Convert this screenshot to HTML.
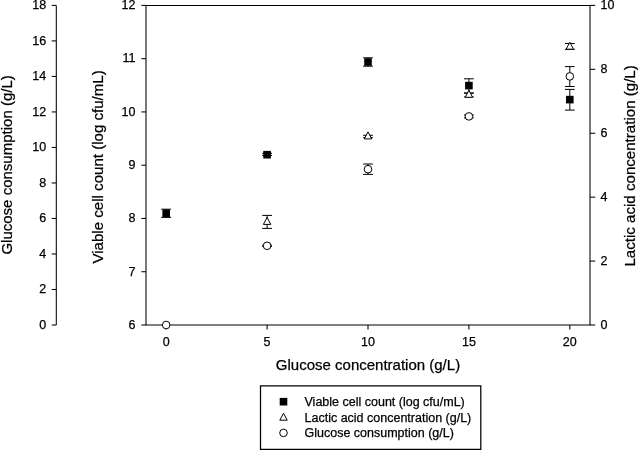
<!DOCTYPE html>
<html><head><meta charset="utf-8"><title>Chart</title><style>
html,body{margin:0;padding:0;background:#fff;}
svg{will-change:transform;display:block;position:absolute;left:0;top:0;}
text{font-family:"Liberation Sans",sans-serif;fill:#000;stroke:#000;stroke-width:0.25px;}
.t{font-size:12.5px;}
.l{font-size:15px;}
.a{stroke:#000;stroke-width:1.05;fill:none;}
.e{stroke:#000;stroke-width:1;fill:none;}
</style></head><body>
<svg width="638" height="450" viewBox="0 0 638 450">
<rect x="0" y="0" width="638" height="450" fill="#fff"/>
<path class="a" d="M146.0 5.4H590.0V325.0H146.0Z"/>
<path class="a" d="M56.3 5.4V325.0"/>
<path class="a" d="M51.699999999999996 325.00H56.3"/>
<text class="t" x="46.099999999999994" y="328.80" text-anchor="end">0</text>
<path class="a" d="M51.699999999999996 289.49H56.3"/>
<text class="t" x="46.099999999999994" y="293.29" text-anchor="end">2</text>
<path class="a" d="M51.699999999999996 253.98H56.3"/>
<text class="t" x="46.099999999999994" y="257.78" text-anchor="end">4</text>
<path class="a" d="M51.699999999999996 218.47H56.3"/>
<text class="t" x="46.099999999999994" y="222.27" text-anchor="end">6</text>
<path class="a" d="M51.699999999999996 182.96H56.3"/>
<text class="t" x="46.099999999999994" y="186.76" text-anchor="end">8</text>
<path class="a" d="M51.699999999999996 147.44H56.3"/>
<text class="t" x="46.099999999999994" y="151.24" text-anchor="end">10</text>
<path class="a" d="M51.699999999999996 111.93H56.3"/>
<text class="t" x="46.099999999999994" y="115.73" text-anchor="end">12</text>
<path class="a" d="M51.699999999999996 76.42H56.3"/>
<text class="t" x="46.099999999999994" y="80.22" text-anchor="end">14</text>
<path class="a" d="M51.699999999999996 40.91H56.3"/>
<text class="t" x="46.099999999999994" y="44.71" text-anchor="end">16</text>
<path class="a" d="M51.699999999999996 5.40H56.3"/>
<text class="t" x="46.099999999999994" y="9.20" text-anchor="end">18</text>
<path class="a" d="M141.4 325.00H146.0"/>
<text class="t" x="135.5" y="328.80" text-anchor="end">6</text>
<path class="a" d="M141.4 271.73H146.0"/>
<text class="t" x="135.5" y="275.53" text-anchor="end">7</text>
<path class="a" d="M141.4 218.47H146.0"/>
<text class="t" x="135.5" y="222.27" text-anchor="end">8</text>
<path class="a" d="M141.4 165.20H146.0"/>
<text class="t" x="135.5" y="169.00" text-anchor="end">9</text>
<path class="a" d="M141.4 111.93H146.0"/>
<text class="t" x="135.5" y="115.73" text-anchor="end">10</text>
<path class="a" d="M141.4 58.67H146.0"/>
<text class="t" x="135.5" y="62.47" text-anchor="end">11</text>
<path class="a" d="M141.4 5.40H146.0"/>
<text class="t" x="135.5" y="9.20" text-anchor="end">12</text>
<path class="a" d="M590.0 325.00H595.2"/>
<text class="t" x="600.5" y="328.80">0</text>
<path class="a" d="M590.0 261.08H595.2"/>
<text class="t" x="600.5" y="264.88">2</text>
<path class="a" d="M590.0 197.16H595.2"/>
<text class="t" x="600.5" y="200.96">4</text>
<path class="a" d="M590.0 133.24H595.2"/>
<text class="t" x="600.5" y="137.04">6</text>
<path class="a" d="M590.0 69.32H595.2"/>
<text class="t" x="600.5" y="73.12">8</text>
<path class="a" d="M590.0 5.40H595.2"/>
<text class="t" x="600.5" y="9.20">10</text>
<path class="a" d="M166.18 325.0V329.6"/>
<text class="t" x="166.18" y="346.4" text-anchor="middle">0</text>
<path class="a" d="M267.09 325.0V329.6"/>
<text class="t" x="267.09" y="346.4" text-anchor="middle">5</text>
<path class="a" d="M368.00 325.0V329.6"/>
<text class="t" x="368.00" y="346.4" text-anchor="middle">10</text>
<path class="a" d="M468.91 325.0V329.6"/>
<text class="t" x="468.91" y="346.4" text-anchor="middle">15</text>
<path class="a" d="M569.82 325.0V329.6"/>
<text class="t" x="569.82" y="346.4" text-anchor="middle">20</text>
<text class="l" x="368" y="370.2" text-anchor="middle">Glucose concentration (g/L)</text>
<text class="l" style="font-size:15.03px" transform="translate(11.6 164.9) rotate(-90)" text-anchor="middle">Glucose consumption (g/L)</text>
<text class="l" style="font-size:15.08px" transform="translate(103 166.9) rotate(-90)" text-anchor="middle">Viable cell count (log cfu/mL)</text>
<text class="l" style="font-size:15.1px" transform="translate(634.6 165.9) rotate(-90)" text-anchor="middle">Lactic acid concentration (g/L)</text>
<path class="e" d="M166.18 209.20V217.40M161.28 209.20H171.08M161.28 217.40H171.08"/>
<path class="e" d="M267.09 153.30V155.50M262.19 153.30H271.99M262.19 155.50H271.99"/>
<path class="e" d="M368.00 57.80V66.20M363.10 57.80H372.90M363.10 66.20H372.90"/>
<path class="e" d="M468.91 78.80V93.00M464.01 78.80H473.81M464.01 93.00H473.81"/>
<path class="e" d="M569.82 89.40V110.10M564.92 89.40H574.72M564.92 110.10H574.72"/>
<rect x="162.38" y="209.50" width="7.60" height="7.60" fill="#000"/>
<rect x="263.29" y="150.90" width="7.60" height="7.60" fill="#000"/>
<rect x="364.20" y="58.20" width="7.60" height="7.60" fill="#000"/>
<rect x="465.11" y="81.80" width="7.60" height="7.60" fill="#000"/>
<rect x="566.02" y="95.80" width="7.60" height="7.60" fill="#000"/>
<path class="e" d="M267.09 215.40V228.40M262.19 215.40H271.99M262.19 228.40H271.99"/>
<path class="e" d="M368.00 135.30V137.60M363.10 135.30H372.90M363.10 137.60H372.90"/>
<path class="e" d="M468.91 93.20V96.90M464.01 93.20H473.81M464.01 96.90H473.81"/>
<path class="e" d="M569.82 43.50V49.40M564.92 43.50H574.72M564.92 49.40H574.72"/>
<path d="M267.09 217.40L270.79 224.40H263.39Z" fill="#fff" stroke="#000" stroke-width="1"/>
<path d="M368.00 131.90L371.70 138.90H364.30Z" fill="#fff" stroke="#000" stroke-width="1"/>
<path d="M468.91 90.30L472.61 97.30H465.21Z" fill="#fff" stroke="#000" stroke-width="1"/>
<path d="M569.82 42.20L573.52 49.20H566.12Z" fill="#fff" stroke="#000" stroke-width="1"/>
<path class="e" d="M267.09 245.20V246.40M262.19 245.20H271.99M262.19 246.40H271.99"/>
<path class="e" d="M368.00 164.00V174.40M363.10 164.00H372.90M363.10 174.40H372.90"/>
<path class="e" d="M468.91 115.00V117.90M464.01 115.00H473.81M464.01 117.90H473.81"/>
<path class="e" d="M569.82 66.60V86.50M564.92 66.60H574.72M564.92 86.50H574.72"/>
<circle cx="166.18" cy="325.00" r="3.8" fill="#fff" stroke="#000" stroke-width="1"/>
<circle cx="267.09" cy="245.80" r="3.8" fill="#fff" stroke="#000" stroke-width="1"/>
<circle cx="368.00" cy="169.20" r="3.8" fill="#fff" stroke="#000" stroke-width="1"/>
<circle cx="468.91" cy="116.40" r="3.8" fill="#fff" stroke="#000" stroke-width="1"/>
<circle cx="569.82" cy="76.40" r="3.8" fill="#fff" stroke="#000" stroke-width="1"/>
<path d="M260.5 385.8H480.8V449.3H260.5Z" fill="none" stroke="#000" stroke-width="1.25"/>
<rect x="279.70" y="397.90" width="7.60" height="7.60" fill="#000"/>
<path d="M283.50 413.20L287.20 420.20H279.80Z" fill="#fff" stroke="#000" stroke-width="1"/>
<circle cx="283.50" cy="432.90" r="3.8" fill="#fff" stroke="#000" stroke-width="1"/>
<text x="304.5" y="405.8" style="font-size:12.5px">Viable cell count (log cfu/mL)</text>
<text x="304.5" y="421.5" style="font-size:12.5px">Lactic acid concentration (g/L)</text>
<text x="304.5" y="437.1" style="font-size:12.5px">Glucose consumption (g/L)</text>
</svg></body></html>
